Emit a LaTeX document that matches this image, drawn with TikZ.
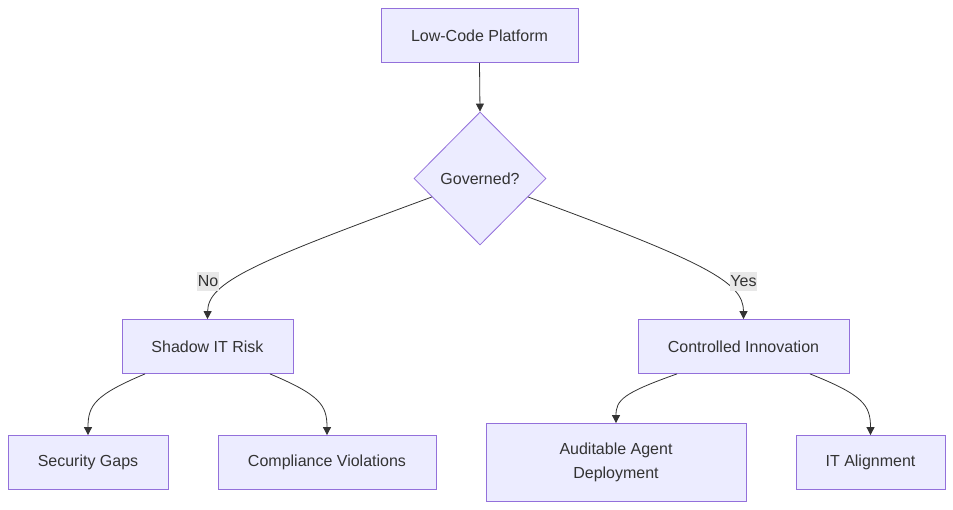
\documentclass[tikz,border=0pt]{standalone}
\usepackage{fontspec}
\setmainfont{Liberation Sans}
\usetikzlibrary{shapes.geometric,arrows.meta}
\definecolor{nodefill}{HTML}{ECECFF}
\definecolor{nodeline}{HTML}{9370DB}
\definecolor{ink}{HTML}{333333}
\definecolor{lblbg}{HTML}{E8E8E8}
\begin{document}
\begin{tikzpicture}[x=1pt,y=-1pt,
  every node/.style={font=\fontsize{16pt}{24pt}\selectfont, text=ink},
  box/.style={draw=nodeline, fill=nodefill, line width=0.8pt, inner sep=0pt, minimum height=54pt},
  decide/.style={draw=nodeline, fill=nodefill, line width=0.8pt, shape=diamond, inner sep=0pt, minimum width=132pt, minimum height=133pt},
  edge/.style={draw=ink, line width=0.8pt, -{Triangle[length=8pt,width=8pt]}},
  lbl/.style={fill=lblbg, inner xsep=0.5pt, inner ysep=0pt, minimum height=19pt, font=\fontsize{16pt}{18pt}\selectfont}]
\useasboundingbox (0,0) rectangle (953,509);
\node[box, minimum width=197pt] (lcp) at (479.5,35.5) {Low-Code Platform};
\node[decide] (gov) at (480,178.5) {Governed?};
\node[box, minimum width=171pt] (shadow) at (207.5,346.5) {Shadow IT Risk};
\node[box, minimum width=211pt] (ctrl) at (743.5,346.5) {Controlled Innovation};
\node[box, minimum width=160pt] (sec) at (88,462.5) {Security Gaps};
\node[box, minimum width=218pt] (comp) at (327,462.5) {Compliance Violations};
\node[box, minimum width=260pt, minimum height=78pt, align=center] (aud) at (616,462.5) {Auditable Agent\\Deployment};
\node[box, minimum width=149pt] (ita) at (870.5,462.5) {IT Alignment};

\draw[edge] (lcp.south) -- (gov.north);
\draw[edge] (gov.201) .. controls (255,262) and (208,282) .. (shadow.north);
\draw[edge] (gov.339) .. controls (705,262) and (743.5,282) .. (ctrl.north);
\node[lbl] (no) at (208,281) {No};
\node[lbl] (yes) at (743.5,281) {Yes};

\draw[edge] ([xshift=-62.5pt]shadow.south) .. controls (95,395) and (88,405) .. (sec.north);
\draw[edge] ([xshift=62.5pt]shadow.south) .. controls (320,395) and (327,405) .. (comp.north);
\draw[edge] ([xshift=-66.5pt]ctrl.south) .. controls (623,393) and (616,400) .. (aud.north);
\draw[edge] ([xshift=66.5pt]ctrl.south) .. controls (863,395) and (870.5,405) .. (ita.north);
\end{tikzpicture}
\end{document}
